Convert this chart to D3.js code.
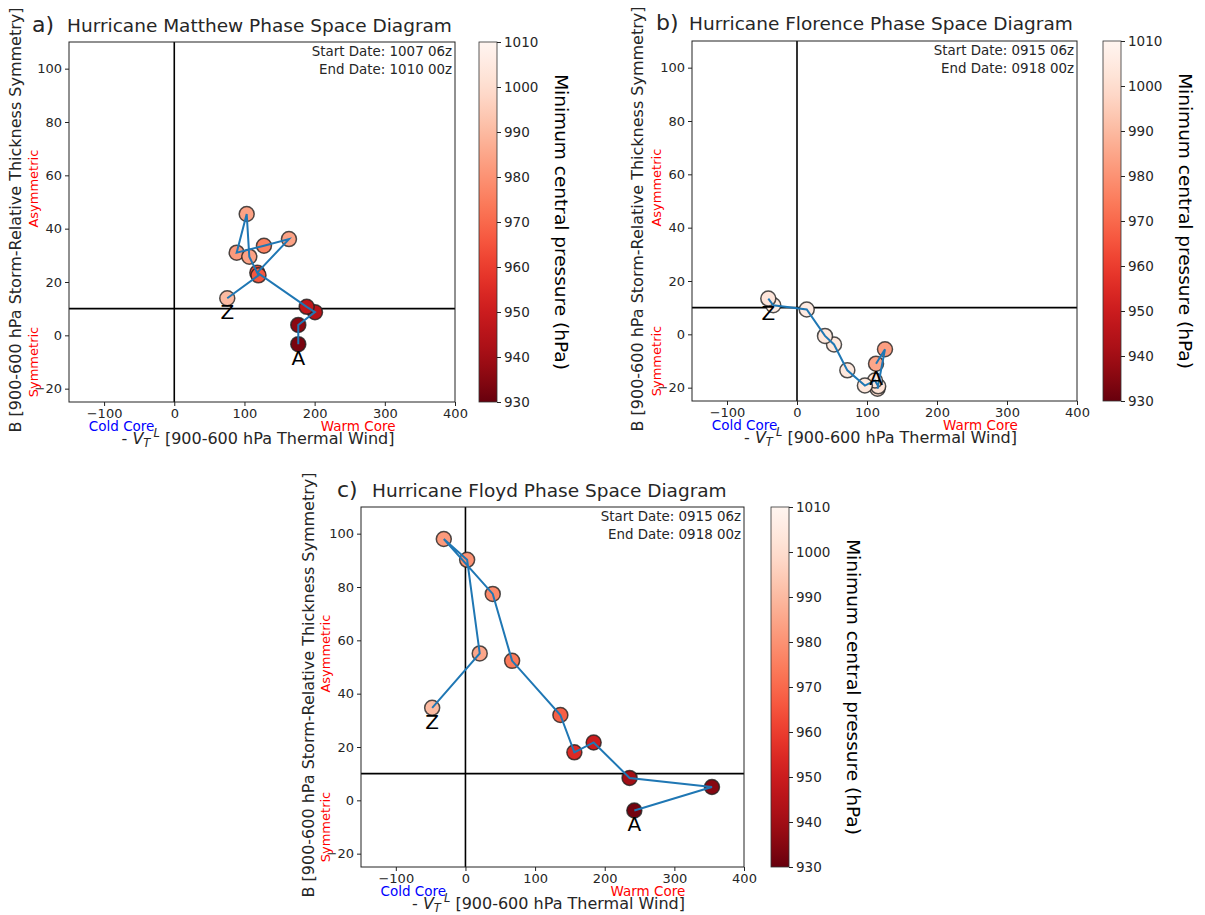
<!DOCTYPE html>
<html>
<head>
<meta charset="utf-8">
<script src="https://cdn.jsdelivr.net/npm/d3@7"></script>
<style>
  body { margin: 0; background: #fff; }
  svg { font-family: "DejaVu Sans", sans-serif; }
</style>
</head>
<body>
<div id="chart"></div>
<script>
// tick values
var xTicks = [-100, 0, 100, 200, 300, 400];
var yTicks = [-20, 0, 20, 40, 60, 80, 100];
var cbTicks = [930, 940, 950, 960, 970, 980, 990, 1000, 1010];

// Matthew (A -> Z)
var matthewVtl = [176.7, 176.7, 200.5, 188.7, 118.3, 163.4, 127.8, 88.9, 103.2, 106.9, 120.0, 75.5];
var matthewB   = [-3.3, 3.9, 8.7, 10.7, 23.5, 36.1, 33.6, 31.0, 45.5, 29.5, 22.5, 13.9];
var matthewP   = [933, 936, 945, 947, 964, 984, 976, 982, 984, 984, 966, 990];

// Florence (A -> Z)
var florenceVtl = [112.9, 125.7, 115.0, 116.0, 111.4, 97.0, 71.9, 52.9, 40.0, 13.9, -33.9, -41.0];
var florenceB   = [-11.0, -5.6, -20.4, -19.5, -17.3, -19.2, -13.5, -3.8, -0.6, 9.3, 10.9, 13.4];
var florenceP   = [985, 983, 1000, 1002, 1003, 1004, 1004, 1004, 1004, 1005, 1005, 1003];

// Floyd (A -> Z)
var floydVtl = [242.5, 354.0, 235.7, 184.1, 156.4, 136.3, 67.0, 39.2, -31.1, 2.4, 20.5, -47.8];
var floydB   = [-3.8, 5.0, 8.4, 21.7, 18.0, 32.0, 52.3, 77.4, 98.0, 90.2, 55.1, 34.7];
var floydP   = [932, 935, 940, 950, 955, 968, 974, 978, 982, 980, 985, 990];

var panels = [
  {letter: "a)", title: "Hurricane Matthew Phase Space Diagram", start: "1007 06z", end: "1010 00z",
   vtl: matthewVtl, b: matthewB, p: matthewP,
   left: 69, top: 42, width: 386, height: 360, letterX: 32, titleX: 67, titleY: 32, ylabX: 15, cbX: 479},
  {letter: "b)", title: "Hurricane Florence Phase Space Diagram", start: "0915 06z", end: "0918 00z",
   vtl: florenceVtl, b: florenceB, p: florenceP,
   left: 692, top: 41, width: 385, height: 360, letterX: 656, titleX: 689, titleY: 30, ylabX: 637, cbX: 1103},
  {letter: "c)", title: "Hurricane Floyd Phase Space Diagram", start: "0915 06z", end: "0918 00z",
   vtl: floydVtl, b: floydB, p: floydP,
   left: 361, top: 507, width: 383, height: 360, letterX: 337, titleX: 372, titleY: 497, ylabX: 308, cbX: 771}
];

var svg = d3.select("#chart").append("svg")
    .attr("width", 1205)
    .attr("height", 915);

var color = d3.scaleSequential(d3.interpolateReds).domain([1010, 930]);

var defs = svg.append("defs");
var grad = defs.append("linearGradient")
    .attr("id", "redsGrad")
    .attr("x1", 0).attr("y1", 1).attr("x2", 0).attr("y2", 0);
d3.range(0, 1.0001, 0.05).forEach(function(t) {
    grad.append("stop")
        .attr("offset", t)
        .attr("stop-color", color(930 + t * 80));
});

var fmt = function(d) { return String(d).replace("-", "\u2212"); };
var textColor = "#262626";

panels.forEach(function(pn) {
    var x = d3.scaleLinear().domain([-150, 400]).range([pn.left, pn.left + pn.width]);
    var y = d3.scaleLinear().domain([-25, 110]).range([pn.top + pn.height, pn.top]);

    // titles
    svg.append("text")
        .attr("x", pn.letterX).attr("y", pn.titleY)
        .attr("font-size", 22).attr("fill", textColor)
        .text(pn.letter);
    svg.append("text")
        .attr("x", pn.titleX).attr("y", pn.titleY)
        .attr("font-size", 18.5).attr("fill", textColor)
        .text(pn.title);

    // axes
    var xAxis = svg.append("g")
        .attr("transform", `translate(0, ${pn.top + pn.height})`)
        .call(d3.axisBottom(x).tickValues(xTicks).tickSize(4).tickPadding(3).tickFormat(fmt));
    var yAxis = svg.append("g")
        .attr("transform", `translate(${pn.left}, 0)`)
        .call(d3.axisLeft(y).tickValues(yTicks).tickSize(4).tickPadding(3).tickFormat(fmt));
    [xAxis, yAxis].forEach(function(g) {
        g.select(".domain").remove();
        g.selectAll("text").attr("font-size", 13).attr("fill", textColor)
            .attr("font-family", "DejaVu Sans");
        g.selectAll("line").attr("stroke", "#222");
    });

    // quadrant lines
    svg.append("line")
        .attr("x1", x(0)).attr("x2", x(0))
        .attr("y1", pn.top).attr("y2", pn.top + pn.height)
        .attr("stroke", "#000").attr("stroke-width", 1.6);
    svg.append("line")
        .attr("x1", pn.left).attr("x2", pn.left + pn.width)
        .attr("y1", y(10)).attr("y2", y(10))
        .attr("stroke", "#000").attr("stroke-width", 1.6);

    var pts = pn.vtl.map(function(v, i) { return {x: v, y: pn.b[i], p: pn.p[i]}; });

    // markers then track on top
    svg.append("g").selectAll("circle")
        .data(pts)
        .enter()
        .append("circle")
        .attr("cx", d => x(d.x))
        .attr("cy", d => y(d.y))
        .attr("r", 7.5)
        .attr("fill", d => color(d.p))
        .attr("stroke", "#222")
        .attr("stroke-opacity", 0.8)
        .attr("stroke-width", 1.5);

    svg.append("path")
        .datum(pts)
        .attr("fill", "none")
        .attr("stroke", "#1f77b4")
        .attr("stroke-width", 2)
        .attr("d", d3.line().x(d => x(d.x)).y(d => y(d.y)));

    // start / end labels
    var first = pts[0], last = pts[pts.length - 1];
    svg.append("text")
        .attr("x", x(first.x)).attr("y", y(first.y) + 21)
        .attr("text-anchor", "middle").attr("font-size", 20).attr("fill", "#000")
        .text("A");
    svg.append("text")
        .attr("x", x(last.x)).attr("y", y(last.y) + 21)
        .attr("text-anchor", "middle").attr("font-size", 20).attr("fill", "#000")
        .text("Z");

    // frame
    svg.append("rect")
        .attr("x", pn.left).attr("y", pn.top)
        .attr("width", pn.width).attr("height", pn.height)
        .attr("fill", "none").attr("stroke", "#222").attr("stroke-width", 1);

    // dates
    svg.append("text")
        .attr("x", pn.left + pn.width - 3).attr("y", pn.top + 14)
        .attr("text-anchor", "end").attr("font-size", 13.4).attr("fill", textColor)
        .text("Start Date: " + pn.start);
    svg.append("text")
        .attr("x", pn.left + pn.width - 3).attr("y", pn.top + 32)
        .attr("text-anchor", "end").attr("font-size", 13.4).attr("fill", textColor)
        .text("End Date: " + pn.end);

    // y label
    svg.append("text")
        .attr("transform", `translate(${pn.ylabX}, ${pn.top + pn.height / 2 - 2}) rotate(-90)`)
        .attr("text-anchor", "middle").attr("dominant-baseline", "central")
        .attr("font-size", 16).attr("fill", textColor)
        .text("B [900-600 hPa Storm-Relative Thickness Symmetry]");
    svg.append("text")
        .attr("transform", `translate(${pn.left - 36}, ${y(55)}) rotate(-90)`)
        .attr("text-anchor", "middle").attr("dominant-baseline", "central")
        .attr("font-size", 13).attr("fill", "#ff0000")
        .text("Asymmetric");
    svg.append("text")
        .attr("transform", `translate(${pn.left - 36}, ${y(-10)}) rotate(-90)`)
        .attr("text-anchor", "middle").attr("dominant-baseline", "central")
        .attr("font-size", 13).attr("fill", "#ff0000")
        .text("Symmetric");

    // x label
    svg.append("text")
        .attr("x", x(-75)).attr("y", pn.top + pn.height + 28.5)
        .attr("text-anchor", "middle").attr("font-size", 13.5).attr("fill", "#0000ff")
        .text("Cold Core");
    svg.append("text")
        .attr("x", x(262)).attr("y", pn.top + pn.height + 28.5)
        .attr("text-anchor", "middle").attr("font-size", 13.5).attr("fill", "#ff0000")
        .text("Warm Core");
    var xl = svg.append("text")
        .attr("x", pn.left + pn.width / 2 - 4).attr("y", pn.top + pn.height + 42)
        .attr("text-anchor", "middle").attr("font-size", 16).attr("fill", textColor);
    xl.append("tspan").text("- ");
    xl.append("tspan").attr("font-style", "italic").text("V");
    xl.append("tspan").attr("font-style", "italic").attr("font-size", 11.5).attr("dy", 3).text("T");
    xl.append("tspan").attr("font-style", "italic").attr("font-size", 11.5).attr("dy", -10).attr("dx", 3).text("L");
    xl.append("tspan").attr("dy", 7).text(" [900-600 hPa Thermal Wind]");

    // colorbar
    var cbY = d3.scaleLinear().domain([930, 1010]).range([pn.top + pn.height, pn.top]);
    svg.append("rect")
        .attr("x", pn.cbX).attr("y", pn.top)
        .attr("width", 18).attr("height", pn.height)
        .attr("fill", "url(#redsGrad)")
        .attr("stroke", "#333").attr("stroke-width", 0.8);
    var cbAxis = svg.append("g")
        .attr("transform", `translate(${pn.cbX + 18}, 0)`)
        .call(d3.axisRight(cbY).tickValues(cbTicks).tickSize(4).tickPadding(3).tickFormat(d3.format("d")));
    cbAxis.select(".domain").remove();
    cbAxis.selectAll("text").attr("font-size", 13.5).attr("fill", textColor)
        .attr("font-family", "DejaVu Sans");
    cbAxis.selectAll("line").attr("stroke", "#222");
    svg.append("text")
        .attr("transform", `translate(${pn.cbX + 82}, ${pn.top + pn.height / 2}) rotate(90)`)
        .attr("text-anchor", "middle").attr("dominant-baseline", "central")
        .attr("font-size", 18.5).attr("fill", "#000")
        .text("Minimum central pressure (hPa)");
});
</script>
</body>
</html>
